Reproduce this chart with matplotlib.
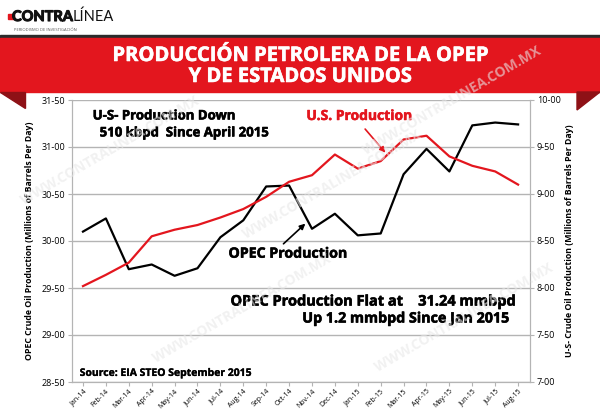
import matplotlib.pyplot as plt
import matplotlib.patheffects as pe
from matplotlib.patches import Polygon, Rectangle
from matplotlib.text import Annotation

plt.rcParams['font.family'] = ['Open Sans', 'DejaVu Sans']

months = ["Jan-14", "Feb-14", "Mar-14", "Apr-14", "May-14", "Jun-14", "Jul-14",
          "Aug-14", "Sep-14", "Oct-14", "Nov-14", "Dec-14", "Jan-15", "Feb-15",
          "Mar-15", "Apr-15", "May-15", "Jun-15", "Jul-15", "Aug-15"]
opec = [30.10, 30.24, 29.70, 29.75, 29.63, 29.71, 30.04, 30.22, 30.58, 30.59,
        30.13, 30.29, 30.06, 30.08, 30.71, 30.98, 30.74, 31.23, 31.26, 31.24]
us = [8.02, 8.14, 8.27, 8.55, 8.62, 8.67, 8.75, 8.84, 8.97, 9.13,
      9.20, 9.42, 9.27, 9.35, 9.58, 9.62, 9.40, 9.30, 9.24, 9.10]
left_ticks = [28.5, 29.0, 29.5, 30.0, 30.5, 31.0, 31.5]
right_ticks = [7.0, 7.5, 8.0, 8.5, 9.0, 9.5, 10.0]

RED = "#e3161e"
GRID = "#b4b4b4"


def heavy(color, w=0.4):
    # thicken the bold face a little, closer to the original heavy type
    return [pe.withStroke(linewidth=w, foreground=color)]


fig = plt.figure(figsize=(6, 4.16), dpi=100)
fig.patch.set_facecolor("white")

# header band and corner folds
fig.patches.append(Rectangle((0, 1 - 38 / 416), 1, 3 / 416, transform=fig.transFigure,
                             color="#2b2b2b", zorder=0))
fig.patches.append(Rectangle((0, 1 - 92 / 416), 1, 54 / 416, transform=fig.transFigure,
                             color=RED, zorder=0))
fig.patches.append(Polygon([(0, 1 - 92 / 416), (25 / 600, 1 - 92 / 416), (25 / 600, 1 - 108 / 416)],
                           closed=True, transform=fig.transFigure, color="#8e1116", zorder=0))
fig.patches.append(Polygon([(577 / 600, 1 - 92 / 416), (1, 1 - 92 / 416), (577 / 600, 1 - 110 / 416)],
                           closed=True, transform=fig.transFigure, color="#8e1116", zorder=0))
fig.text(300 / 600, 1 - 56 / 416, "PRODUCCIÓN PETROLERA DE LA OPEP", color="white",
         fontsize=14.5, fontweight="bold", ha="center", va="center", path_effects=heavy("white"))
fig.text(300 / 600, 1 - 77 / 416, "Y DE ESTADOS UNIDOS", color="white",
         fontsize=14.5, fontweight="bold", ha="center", va="center", path_effects=heavy("white"))

# logo
fig.patches.append(Rectangle((8 / 600, 1 - 19 / 416), 6 / 600, 5 / 416, transform=fig.transFigure,
                             color=RED, zorder=1))
logo = fig.text(12 / 600, 1 - 17 / 416, "CONTRA", color="#111111", fontsize=10.5,
                fontweight="bold", ha="left", va="center", family="Lato",
                path_effects=heavy("#111111", 0.8))
fig.add_artist(Annotation("LÍNEA", xy=(1.0, 0.5), xycoords=logo, va="center", ha="left",
                          fontsize=10.5, color="#111111", family="Lato"))
fig.text(14 / 600, 1 - 30 / 416, "PERIODISMO DE INVESTIGACIÓN", color="#555555", fontsize=3,
         ha="left", va="center")

ax = fig.add_axes([72 / 600, 1 - 382 / 416, 458 / 600, 282 / 416])
ax2 = ax.twinx()

x = list(range(len(months)))
ax.plot(x, opec, color="black", lw=1.6, zorder=3)
ax2.plot(x, us, color=RED, lw=1.6, zorder=3)

ax.set_xlim(-0.48, 19.52)
ax.set_ylim(28.5, 31.5)
ax2.set_ylim(7.0, 10.0)
ax.set_yticks(left_ticks)
ax.set_yticklabels([f"{v:.2f}".replace(".", "-") for v in left_ticks], fontsize=6.5)
ax2.set_yticks(right_ticks)
ax2.set_yticklabels([f"{v:.2f}".replace(".", "-") for v in right_ticks], fontsize=6.5)
ax.set_xticks(x)
ax.set_xticklabels(months, rotation=45, ha="right", rotation_mode="anchor", fontsize=5)
ax.yaxis.grid(True, color=GRID, lw=1)
ax.set_axisbelow(True)
for a in (ax, ax2):
    for s in a.spines.values():
        s.set_color(GRID)
    a.spines["top"].set_visible(False)
    a.tick_params(color=GRID, length=3, pad=2)
ax.tick_params(axis="x", pad=1)

ax.set_ylabel("OPEC Crude Oil Production (Millions of Barrels Per Day)", fontsize=6.3,
              fontweight="bold", labelpad=5)
ax2.set_ylabel("U-S- Crude Oil Production (Millions of Barrels Per Day)", fontsize=6.3,
               fontweight="bold", labelpad=3, rotation=90)


def px(xp, yp):
    return (xp - 83.3) / 22.93, 31.5 - (yp - 100) / 94.2


ax.text(*px(93, 116), "U-S- Production Down", fontsize=9.5, fontweight="bold", va="center",
        path_effects=heavy("black"))
ax.text(*px(100, 133), "510 kbpd  Since April 2015", fontsize=9.5, fontweight="bold",
        va="center", path_effects=heavy("black"))
ax.text(*px(307, 116), "U.S. Production", fontsize=10, fontweight="bold", color=RED,
        va="center", path_effects=heavy(RED))
ax.annotate("", xy=px(388, 155), xytext=px(364, 127),
            arrowprops=dict(arrowstyle="-|>", color=RED, lw=1.2, mutation_scale=8))
ax.text(*px(229, 254), "OPEC Production", fontsize=10.2, fontweight="bold", va="center",
        path_effects=heavy("black"))
ax.annotate("", xy=px(308, 222), xytext=px(282, 246),
            arrowprops=dict(arrowstyle="-|>", color="black", lw=1.2, mutation_scale=8))
ax.text(*px(231, 302), "OPEC Production Flat at    31.24 mmbpd", fontsize=10.5,
        fontweight="bold", va="center", path_effects=heavy("black"))
ax.text(*px(510, 319), "Up 1.2 mmbpd Since Jan 2015", fontsize=10.3, fontweight="bold",
        va="center", ha="right", path_effects=heavy("black"))
ax.text(*px(80, 374), "Source: EIA STEO September 2015", fontsize=7.5, fontweight="bold",
        va="center", path_effects=heavy("black", 0.2))

# faint watermark
for wx, wy in [(0.03, 0.50), (0.40, 0.42), (0.60, 0.62), (0.25, 0.12), (0.62, 0.10)]:
    fig.text(wx, wy, "WWW.CONTRALINEA.COM.MX", color="#e8e8e8", alpha=0.6, fontsize=10,
             fontweight="bold", rotation=30, ha="left", va="bottom", zorder=5)

fig.savefig("out.png", dpi=100)
